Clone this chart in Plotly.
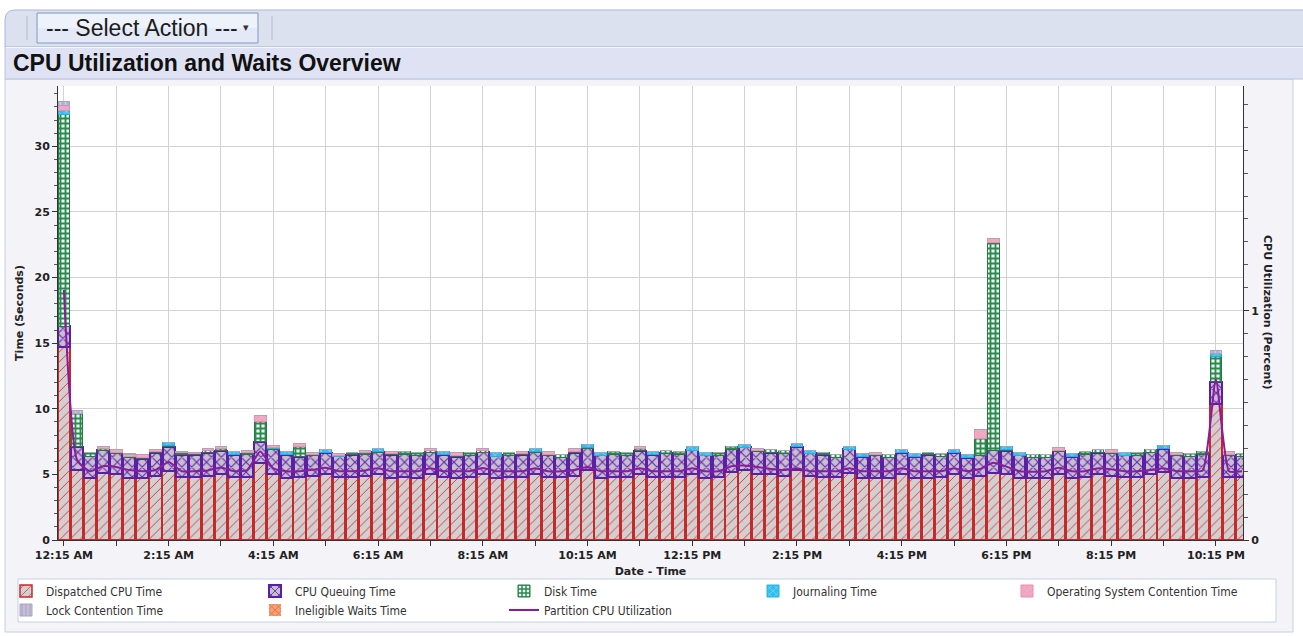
import plotly.graph_objects as go

# 15-minute intervals, 12:15 AM through 10:45 PM
interval_idx = list(range(91))

tick_positions = list(range(0, 92, 4))
tick_labels = ["12:15 AM", "", "2:15 AM", "", "4:15 AM", "", "6:15 AM", "", "8:15 AM", "",
               "10:15 AM", "", "12:15 PM", "", "2:15 PM", "", "4:15 PM", "", "6:15 PM", "",
               "8:15 PM", "", "10:15 PM"]

dispatched_cpu = [
    14.7, 5.35, 4.7, 5.1, 5.05, 4.7, 4.7, 4.85, 5.25, 4.8,
    4.8, 4.85, 5.0, 4.8, 4.8, 5.9, 5.0, 4.75, 4.8, 4.85,
    5.0, 4.8, 4.8, 4.85, 5.0, 4.75, 4.8, 4.75, 5.0, 4.8,
    4.75, 4.8, 5.0, 4.75, 4.8, 4.8, 5.0, 4.8, 4.8, 4.9,
    5.3, 4.75, 4.8, 4.8, 5.0, 4.8, 4.8, 4.8, 5.05, 4.75,
    4.8, 5.2, 5.3, 5.05, 5.0, 4.9, 5.35, 4.85, 4.8, 4.8,
    5.1, 4.7, 4.75, 4.75, 5.0, 4.7, 4.75, 4.8, 5.0, 4.7,
    4.85, 5.1, 5.0, 4.75, 4.75, 4.75, 5.05, 4.75, 4.8, 5.0,
    4.85, 4.8, 4.8, 5.0, 5.15, 4.75, 4.75, 4.8, 10.4, 4.8,
    4.8]

cpu_queuing = [
    1.6, 1.75, 1.7, 1.75, 1.55, 1.6, 1.5, 1.8, 1.85, 1.7,
    1.7, 1.8, 1.8, 1.7, 1.75, 1.6, 1.9, 1.75, 1.55, 1.6,
    1.65, 1.6, 1.7, 1.7, 1.7, 1.75, 1.75, 1.7, 1.7, 1.7,
    1.6, 1.65, 1.7, 1.65, 1.65, 1.7, 1.7, 1.65, 1.5, 1.75,
    1.7, 1.7, 1.75, 1.65, 1.8, 1.7, 1.8, 1.75, 1.8, 1.7,
    1.65, 1.7, 1.75, 1.7, 1.65, 1.7, 1.75, 1.75, 1.7, 1.5,
    1.8, 1.65, 1.7, 1.55, 1.65, 1.65, 1.75, 1.6, 1.65, 1.55,
    1.6, 1.75, 1.8, 1.7, 1.55, 1.55, 1.7, 1.6, 1.75, 1.65,
    1.75, 1.65, 1.65, 1.7, 1.8, 1.7, 1.65, 1.75, 1.65, 1.65,
    1.6]

disk_time = [
    16.1, 2.55, 0.25, 0.1, 0.1, 0.1, 0.1, 0.1, 0.1, 0.15,
    0.1, 0.15, 0.15, 0.0, 0.1, 1.55, 0.1, 0.0, 0.75, 0.05,
    0.0, 0.0, 0.2, 0.1, 0.05, 0.1, 0.2, 0.2, 0.1, 0.0,
    0.1, 0.2, 0.1, 0.0, 0.2, 0.1, 0.05, 0.1, 0.2, 0.1,
    0.05, 0.0, 0.2, 0.2, 0.15, 0.0, 0.25, 0.2, 0.0, 0.0,
    0.2, 0.25, 0.0, 0.05, 0.25, 0.25, 0.0, 0.0, 0.2, 0.2,
    0.0, 0.0, 0.1, 0.2, 0.0, 0.0, 0.2, 0.2, 0.0, 0.0,
    1.3, 15.85, 0.1, 0.0, 0.2, 0.2, 0.1, 0.0, 0.2, 0.25,
    0.1, 0.0, 0.2, 0.2, 0.0, 0.05, 0.2, 0.2, 1.95, 0.1,
    0.2]

journaling_time = [
    0.3, 0.0, 0.0, 0.0, 0.0, 0.0, 0.0, 0.0, 0.25, 0.0,
    0.0, 0.0, 0.0, 0.25, 0.0, 0.0, 0.05, 0.25, 0.0, 0.0,
    0.25, 0.05, 0.0, 0.0, 0.25, 0.0, 0.0, 0.0, 0.0, 0.25,
    0.0, 0.0, 0.0, 0.25, 0.0, 0.0, 0.25, 0.0, 0.0, 0.0,
    0.25, 0.25, 0.0, 0.0, 0.0, 0.25, 0.0, 0.0, 0.25, 0.25,
    0.0, 0.0, 0.25, 0.0, 0.0, 0.0, 0.25, 0.25, 0.0, 0.0,
    0.25, 0.25, 0.0, 0.0, 0.25, 0.25, 0.0, 0.0, 0.25, 0.25,
    0.0, 0.0, 0.25, 0.25, 0.0, 0.0, 0.0, 0.25, 0.0, 0.0,
    0.0, 0.25, 0.0, 0.0, 0.25, 0.0, 0.0, 0.0, 0.2, 0.0,
    0.0]

os_contention = [
    0.4, 0.0, 0.0, 0.2, 0.2, 0.15, 0.2, 0.15, 0.0, 0.1,
    0.1, 0.15, 0.15, 0.0, 0.2, 0.45, 0.15, 0.0, 0.25, 0.15,
    0.0, 0.15, 0.0, 0.2, 0.0, 0.15, 0.0, 0.0, 0.2, 0.0,
    0.2, 0.0, 0.2, 0.0, 0.0, 0.15, 0.0, 0.2, 0.0, 0.2,
    0.0, 0.0, 0.0, 0.0, 0.2, 0.0, 0.0, 0.0, 0.0, 0.0,
    0.0, 0.0, 0.0, 0.2, 0.0, 0.0, 0.0, 0.0, 0.0, 0.0,
    0.0, 0.0, 0.15, 0.0, 0.0, 0.0, 0.0, 0.0, 0.0, 0.0,
    0.7, 0.25, 0.0, 0.0, 0.0, 0.0, 0.2, 0.0, 0.0, 0.0,
    0.2, 0.0, 0.0, 0.0, 0.0, 0.2, 0.0, 0.0, 0.0, 0.2,
    0.0]

lock_contention = [0.3, 0.25, 0.0, 0.0, 0.0, 0.05] + [0.0] * 82 + [0.25, 0.0, 0.0]

ineligible_waits = [0.0] * 91

partition_cpu_util = [
    1.09, 0.35, 0.30, 0.322, 0.318, 0.305, 0.30, 0.305, 0.34, 0.30,
    0.30, 0.303, 0.316, 0.30, 0.305, 0.386, 0.312, 0.30, 0.30, 0.306,
    0.315, 0.30, 0.30, 0.303, 0.313, 0.30, 0.30, 0.30, 0.313, 0.30,
    0.30, 0.30, 0.314, 0.30, 0.30, 0.30, 0.313, 0.30, 0.30, 0.305,
    0.318, 0.30, 0.30, 0.30, 0.313, 0.30, 0.30, 0.30, 0.313, 0.30,
    0.30, 0.322, 0.325, 0.318, 0.31, 0.305, 0.313, 0.30, 0.30, 0.30,
    0.313, 0.30, 0.30, 0.30, 0.313, 0.30, 0.30, 0.30, 0.313, 0.30,
    0.31, 0.337, 0.32, 0.30, 0.298, 0.30, 0.315, 0.30, 0.30, 0.313,
    0.308, 0.30, 0.30, 0.305, 0.313, 0.30, 0.30, 0.303, 0.70, 0.30,
    0.30]

# ---- page geometry (pixels) ----
W, H = 1303, 636
PL, PR, PT, PB = 58, 1243, 86, 540


def fx(px):
    return (px - PL) / (PR - PL)


def fy(py):
    return (PB - py) / (PB - PT)


TICK_FONT = dict(family="DejaVu Sans, Arial", size=11, color="#222222", weight="bold")
LEG_FONT = dict(family="DejaVu Sans Condensed, DejaVu Sans, Arial", size=12, color="#333333")

fig = go.Figure()


def add_stack(name, values, bg, fg, shape, border, bw, size=6, solidity=0.3, legend="legend"):
    fig.add_trace(go.Bar(
        x=interval_idx, y=values, name=name, legend=legend,
        marker=dict(
            color=bg,
            line=dict(color=border, width=bw),
            pattern=dict(shape=shape, fgcolor=fg, bgcolor=bg, size=size,
                         solidity=solidity, fillmode="replace"),
        ),
        hoverinfo="skip",
    ))


add_stack("Dispatched CPU Time", dispatched_cpu, "#d2cfd1", "#d84040", "/", "#c42a2a", 1.5, 7, 0.14)
add_stack("CPU Queuing Time", cpu_queuing, "#c6bfcc", "#6526b0", "x", "#5a1fa5", 2, 7, 0.28)
add_stack("Disk Time", disk_time, "#f2f8f3", "#2b8a4f", "+", "#237a42", 1, 5, 0.6)
add_stack("Journaling Time", journaling_time, "#2fc0ec", "#9fe2f6", "x", "#22b0e0", 1, 6, 0.2)
add_stack("Operating System Contention Time", os_contention, "#f3a4c0", "#d5c2cc", "x", "#ec8ab0", 1, 6, 0.2,
          legend="legend3")
add_stack("Lock Contention Time", lock_contention, "#b7b0cc", "#d5d1e2", "|", "#aaa2c4", 1, 5, 0.25,
          legend="legend2")
add_stack("Ineligible Waits Time", ineligible_waits, "#f5a07a", "#f26a2a", "x", "#f26a2a", 0, 6, 0.3,
          legend="legend2")

fig.add_trace(go.Scatter(
    x=interval_idx, y=partition_cpu_util, name="Partition CPU Utilization", yaxis="y2",
    legend="legend2", mode="lines",
    line=dict(color="#8b1a9c", width=2, shape="spline", smoothing=0.5),
    hoverinfo="skip",
))

# ---- page chrome ----
shapes = []
# chart panel background
shapes.append(dict(type="rect", xref="paper", yref="paper", x0=fx(5), x1=fx(1293), y0=fy(632), y1=fy(79),
                   fillcolor="#f4f3f8", line=dict(color="#c4cee2", width=1), layer="below"))
# plot area
shapes.append(dict(type="rect", xref="paper", yref="paper", x0=0, x1=1, y0=0, y1=1,
                   fillcolor="#ffffff", line=dict(width=0), layer="below"))
# toolbar band with rounded top-left corner
shapes.append(dict(type="path", xref="paper", yref="paper",
                   path=(f"M {fx(5)},{fy(47)} L {fx(5)},{fy(20)} Q {fx(5)},{fy(10)} {fx(15)},{fy(10)} "
                         f"L {fx(1310)},{fy(10)} L {fx(1310)},{fy(47)} Z"),
                   fillcolor="#dce1f0", line=dict(color="#a9b8d8", width=1), layer="below"))
# title band
shapes.append(dict(type="rect", xref="paper", yref="paper", x0=fx(5), x1=fx(1310), y0=fy(79), y1=fy(47),
                   fillcolor="#dfe2f2", line=dict(color="#b9c4de", width=1), layer="below"))
shapes.append(dict(type="line", xref="paper", yref="paper", x0=fx(6), x1=fx(1310), y0=fy(47.5), y1=fy(47.5),
                   line=dict(color="#f4f6fb", width=1), layer="below"))
# toolbar separators
for sx in (27, 272):
    shapes.append(dict(type="line", xref="paper", yref="paper", x0=fx(sx), x1=fx(sx), y0=fy(40), y1=fy(16),
                       line=dict(color="#b4bccd", width=1), layer="below"))
# dropdown button
shapes.append(dict(type="rect", xref="paper", yref="paper", x0=fx(37), x1=fx(258), y0=fy(43), y1=fy(13),
                   fillcolor="#e3e9f6", line=dict(color="#7f9ac6", width=1), layer="below"))
shapes.append(dict(type="rect", xref="paper", yref="paper", x0=fx(38), x1=fx(257), y0=fy(28), y1=fy(14),
                   fillcolor="#eef2fa", line=dict(width=0), layer="below"))
# legend frame
shapes.append(dict(type="rect", xref="paper", yref="paper", x0=fx(18), x1=fx(1276), y0=fy(622), y1=fy(579),
                   fillcolor="#ffffff", line=dict(color="#c6d1e6", width=1), layer="below"))

annotations = [
    dict(text="--- Select Action ---", xref="paper", yref="paper", x=fx(44), y=fy(28),
         xanchor="left", yanchor="middle", showarrow=False,
         font=dict(family="Liberation Sans, Arial", size=23, color="#1c1c1c")),
    dict(text="▾", xref="paper", yref="paper", x=fx(246), y=fy(28),
         xanchor="center", yanchor="middle", showarrow=False,
         font=dict(family="DejaVu Sans", size=11, color="#333333")),
    dict(text="<b>CPU Utilization and Waits Overview</b>", xref="paper", yref="paper", x=fx(11), y=fy(63),
         xanchor="left", yanchor="middle", showarrow=False,
         font=dict(family="Liberation Sans, Arial", size=23, color="#111111")),
    dict(text="CPU Utilization (Percent)", xref="paper", yref="paper", x=fx(1268), y=fy(312),
         xanchor="center", yanchor="middle", textangle=90, showarrow=False,
         font=dict(family="DejaVu Sans, Arial", size=11, color="#222222", weight="bold")),
]

legend_common = dict(orientation="h", xanchor="left", yanchor="middle",
                     entrywidth=204, entrywidthmode="pixels", traceorder="normal",
                     bgcolor="rgba(0,0,0,0)", borderwidth=0, font=LEG_FONT, itemclick=False)

fig.update_layout(
    width=W, height=H,
    margin=dict(l=PL, r=W - PR, t=PT, b=H - PB, autoexpand=False),
    paper_bgcolor="#ffffff",
    plot_bgcolor="#ffffff",
    barmode="stack",
    bargap=0.1,
    shapes=shapes,
    annotations=annotations,
    xaxis=dict(
        range=[-0.45, 90.07],
        tickmode="array", tickvals=tick_positions, ticktext=tick_labels,
        ticks="outside", ticklen=5, tickcolor="#333333",
        showgrid=True, gridcolor="#d2d2d2", gridwidth=1,
        showline=True, linecolor="#333333", linewidth=1,
        tickfont=TICK_FONT, zeroline=False,
        title=dict(text="Date - Time", font=TICK_FONT, standoff=6),
    ),
    yaxis=dict(
        range=[0, 34.6], dtick=5, tick0=0,
        ticks="outside", ticklen=5, tickcolor="#333333",
        minor=dict(dtick=1, ticks="outside", ticklen=3, tickcolor="#555555", showgrid=False),
        showgrid=True, gridcolor="#d2d2d2", gridwidth=1,
        showline=True, linecolor="#333333", linewidth=1,
        tickfont=TICK_FONT, zeroline=False,
        title=dict(text="Time (Seconds)", font=TICK_FONT, standoff=8),
    ),
    yaxis2=dict(
        overlaying="y", side="right", range=[0, 1.98],
        tickmode="array", tickvals=[0, 1], ticktext=["0", "1"],
        ticks="outside", ticklen=5, tickcolor="#333333",
        minor=dict(dtick=0.1, tick0=0, ticks="outside", ticklen=4, tickcolor="#555555", showgrid=False),
        showgrid=True, gridcolor="#d2d2d2", gridwidth=1,
        showline=True, linecolor="#333333", linewidth=1,
        tickfont=TICK_FONT, zeroline=False,
    ),
    legend=dict(x=fx(6), y=fy(591), **legend_common),
    legend3=dict(x=fx(1007), y=fy(591), **legend_common),
    legend2=dict(x=fx(6), y=fy(610), **legend_common),
)

fig.write_html("out.html")
